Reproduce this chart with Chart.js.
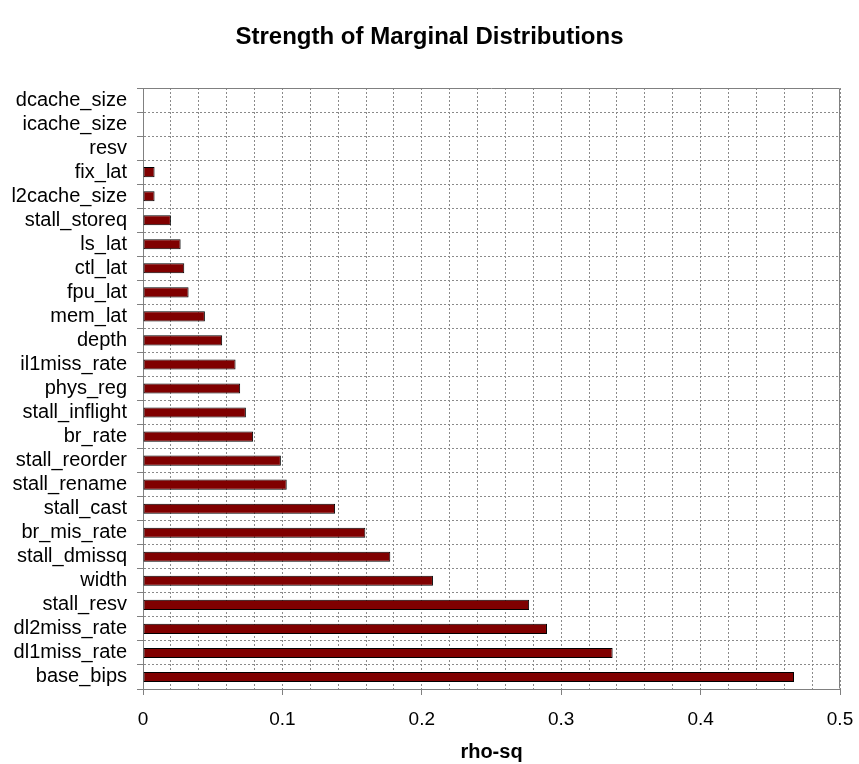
<!DOCTYPE html>
<html>
<head>
<meta charset="utf-8">
<script src="https://cdn.jsdelivr.net/npm/chart.js@4"></script>
<style>
  html, body { margin: 0; padding: 0; background: #fff; }
  #wrap { width: 859px; height: 764px; }
</style>
</head>
<body>
<div id="wrap"><canvas id="c" width="859" height="764"></canvas></div>
<script>
// ---- data ----
const categories = [
  "dcache_size", "icache_size", "resv", "fix_lat", "l2cache_size", "stall_storeq",
  "ls_lat", "ctl_lat", "fpu_lat", "mem_lat", "depth", "il1miss_rate", "phys_reg",
  "stall_inflight", "br_rate", "stall_reorder", "stall_rename", "stall_cast",
  "br_mis_rate", "stall_dmissq", "width", "stall_resv", "dl2miss_rate",
  "dl1miss_rate", "base_bips"
];
const rhoSq = [
  0, 0, 0, 0.0083, 0.0083, 0.020,
  0.027, 0.0296, 0.0327, 0.0444, 0.0568, 0.0664, 0.0697,
  0.0738, 0.079, 0.0989, 0.1031, 0.1378,
  0.1595, 0.1774, 0.208, 0.277, 0.2898,
  0.3369, 0.467
];
const xMin = 0, xMax = 0.5, xMinorStep = 0.02;
const titleText = "Strength of Marginal Distributions";
const xTitle = "rho-sq";

const FONT = "'Liberation Sans', Arial, Helvetica, sans-serif";
const GRID = "#8a8a8a";
const AXIS = "#808080";

function isMajor(v) {
  return Math.abs(v * 10 - Math.round(v * 10)) < 1e-6;
}

const framePlugin = {
  id: 'frame',
  afterDraw(chart) {
    const a = chart.chartArea, ctx = chart.ctx;
    ctx.save();
    ctx.strokeStyle = AXIS;
    ctx.lineWidth = 1;
    ctx.setLineDash([]);
    const l = Math.round(a.left) + 0.5, r = Math.round(a.right) - 0.5;
    const t = Math.round(a.top) + 0.5, b = Math.round(a.bottom) - 0.5;
    ctx.beginPath();
    ctx.moveTo(l, t); ctx.lineTo(r, t); ctx.lineTo(r, b);
    ctx.stroke();
    ctx.restore();
  }
};

new Chart(document.getElementById('c'), {
  type: 'bar',
  data: {
    labels: categories,
    datasets: [{
      data: rhoSq,
      backgroundColor: '#800000',
      borderColor: '#000000',
      borderWidth: 1,
      borderSkipped: false,
      barPercentage: 0.42,
      categoryPercentage: 1.0
    }]
  },
  plugins: [framePlugin],
  options: {
    indexAxis: 'y',
    responsive: false,
    animation: false,
    layout: { padding: { left: 0, right: 0, top: 0, bottom: 0 } },
    plugins: {
      legend: { display: false },
      tooltip: { enabled: false },
      title: {
        display: true,
        text: titleText,
        color: '#000',
        font: { family: FONT, size: 24, weight: 'bold' },
        padding: { top: 22.6, bottom: 36.6 }
      }
    },
    scales: {
      x: {
        type: 'linear',
        min: xMin,
        max: xMax,
        afterFit(scale) { scale.height = 75; scale.paddingLeft = 0; scale.paddingRight = 19; },
        ticks: {
          stepSize: xMinorStep,
          autoSkip: false,
          maxRotation: 0,
          color: '#000',
          padding: 13,
          font: { family: FONT, size: 19 },
          callback(v) { return isMajor(v) ? String(Math.round(v * 10) / 10) : ''; }
        },
        grid: {
          color: GRID,
          lineWidth: 1,
          tickLength: 6,
          tickColor: (ctx) => (ctx.tick && isMajor(ctx.tick.value)) ? AXIS : 'rgba(0,0,0,0)'
        },
        border: { display: true, color: AXIS, width: 1, dash: [2, 2] },
        title: {
          display: true,
          text: xTitle,
          color: '#000',
          font: { family: FONT, size: 20, weight: 'bold' },
          padding: { top: 0, bottom: 0 }
        }
      },
      y: {
        type: 'category',
        afterFit(scale) { scale.width = 143; },
        ticks: {
          color: '#000',
          padding: 10,
          autoSkip: false,
          font: { family: FONT, size: 20 }
        },
        grid: {
          color: GRID,
          lineWidth: 1,
          tickLength: 6,
          tickColor: AXIS,
          offset: true
        },
        border: { display: true, color: AXIS, width: 1, dash: [2, 2] }
      }
    }
  }
});
</script>
</body>
</html>
